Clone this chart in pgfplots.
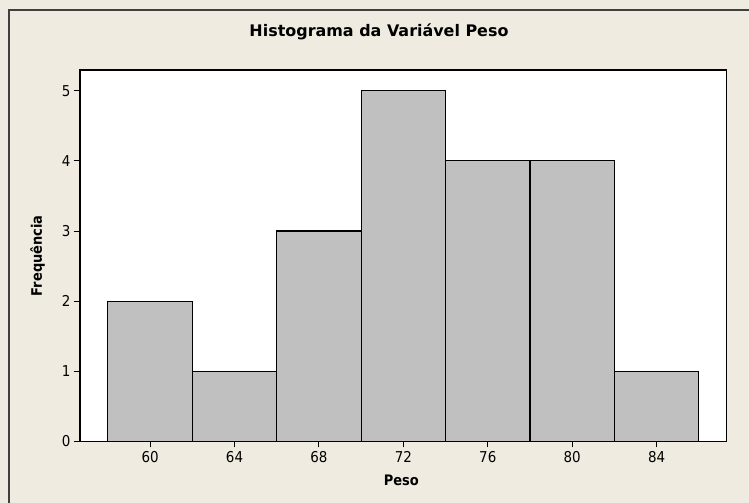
\documentclass[border=0pt]{standalone}
\usepackage{pgfplots}
\pgfplotsset{compat=1.18}
\usepackage{fontspec}
\setmainfont{DejaVu Sans Condensed}
\newfontfamily\titlefont{DejaVu Sans}
\definecolor{bgcol}{RGB}{239,235,225}
\definecolor{barcol}{RGB}{192,192,192}
\definecolor{framecol}{RGB}{64,64,64}
\begin{document}
\begin{tikzpicture}[x=1bp,y=1bp]
\fill[bgcol] (0,0) rectangle (749,503);
\draw[framecol, line width=1.5bp, fill=bgcol] (9,-20) rectangle (760,493);
\begin{axis}[
  at={(80bp,61.5bp)}, anchor=south west,
  scale only axis, width=646.7bp, height=371.5bp,
  xmin=56.68, xmax=87.32, ymin=0, ymax=5.295,
  axis background/.style={fill=white},
  axis line style={line width=1.3bp, black},
  xtick={60,64,...,84}, ytick={0,1,...,5},
  tick align=outside, tick pos=left, major tick length=6bp,
  tick style={black, line width=1bp},
  ticklabel style={font=\fontsize{15}{17}\selectfont},
  /pgf/number format/assume math mode=true,
  title={Histograma da Variável Peso},
  title style={font=\titlefont\fontsize{16}{19}\selectfont\bfseries, at={(axis description cs:0.4623,1)}, anchor=base, yshift=28bp},
  xlabel={Peso},
  xlabel style={font=\fontsize{14.5}{17}\selectfont\bfseries, at={(axis description cs:0.497,0)}, anchor=base, yshift=-44.5bp},
  ylabel={Frequência},
  ylabel style={font=\fontsize{14.5}{17}\selectfont\bfseries, at={(axis description cs:-0.0657,0.5)}, anchor=center, rotate=0},
]
\addplot[ybar interval, fill=barcol, draw=black, line width=1.2bp] coordinates {
  (58,2) (62,1) (66,3) (70,5) (74,4) (78,4) (82,1) (86,1)
};
\end{axis}
\pgfresetboundingbox
\useasboundingbox (0,0) rectangle (749,503);
\end{tikzpicture}
\end{document}
